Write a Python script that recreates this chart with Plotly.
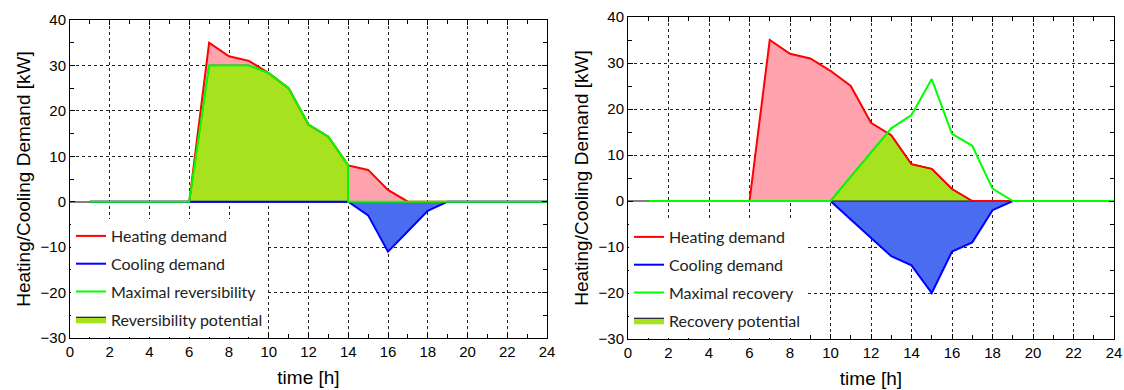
import numpy as np
import plotly.graph_objects as go

# ---------------- data ----------------
hours = list(range(1, 25))
heating_demand = [0, 0, 0, 0, 0, 0, 35, 32, 31, 28.3, 25, 17, 14.3, 8, 7, 2.6,
                  0, 0, 0, 0, 0, 0, 0, 0]
cooling_demand_left = [0, 0, 0, 0, 0, 0, 0, 0, 0, 0, 0, 0, 0, 0, -3, -11, -6.5, -2,
                       0, 0, 0, 0, 0, 0]
cooling_demand_right = [0, 0, 0, 0, 0, 0, 0, 0, 0, 0, -4, -8, -12, -14, -20, -11, -9, -2,
                        0, 0, 0, 0, 0, 0]
rev_hours = list(range(1, 15)) + [14] + list(range(15, 25))
max_reversibility = [0, 0, 0, 0, 0, 0, 30, 30, 30, 28.3, 25, 17, 14.3, 8,
                     0, 0, 0, 0, 0, 0, 0, 0, 0, 0, 0]
max_recovery = [0, 0, 0, 0, 0, 0, 0, 0, 0, 0, 5.3, 10.6, 15.8, 18.7, 26.5, 14.6, 12, 2.7,
                0, 0, 0, 0, 0, 0]

x_ticks = list(range(0, 25, 2))
y_ticks = list(range(-30, 41, 10))

# ---------------- styles ----------------
RED, BLUE, GREEN = "#ff0000", "#0000ff", "#00ff00"
PINK_FILL, BLUE_FILL, GREEN_FILL = "#ffa3ae", "#4a6cf0", "#a6e21e"
OUTLINE = "#1a1a3a"
LW = 2


def pointwise_min(x, a, b):
    """Lower envelope of two piecewise-linear curves, with crossings inserted."""
    xs, ys = [], []
    for i in range(len(x)):
        if i > 0:
            d0 = a[i - 1] - b[i - 1]
            d1 = a[i] - b[i]
            if d0 * d1 < 0:
                t = d0 / (d0 - d1)
                xs.append(x[i - 1] + t * (x[i] - x[i - 1]))
                ys.append(a[i - 1] + t * (a[i] - a[i - 1]))
        xs.append(x[i])
        ys.append(min(a[i], b[i]))
    return xs, ys


def closed_to_zero(xs, ys):
    return list(xs) + list(xs[::-1]), list(ys) + [0] * len(xs)


fig = go.Figure()


def add_panel(xa, ya, legend, cooling, green_x, green_y, green_name, pot_x, pot_y, pot_name):
    # filled areas
    fig.add_trace(go.Scatter(x=hours, y=heating_demand, mode="lines", fill="tozeroy",
                             fillcolor=PINK_FILL, line=dict(width=0), showlegend=False,
                             xaxis=xa, yaxis=ya, hoverinfo="skip"))
    fig.add_trace(go.Scatter(x=hours, y=cooling, mode="lines", fill="tozeroy",
                             fillcolor=BLUE_FILL, line=dict(width=0), showlegend=False,
                             xaxis=xa, yaxis=ya, hoverinfo="skip"))
    px, py = closed_to_zero(pot_x, pot_y)
    fig.add_trace(go.Scatter(x=px, y=py, mode="lines", fill="toself",
                             fillcolor=GREEN_FILL, line=dict(color=OUTLINE, width=1.2),
                             name=pot_name, legend=legend, xaxis=xa, yaxis=ya,
                             legendrank=4, legendgroup=legend + "d"))
    # lines
    fig.add_trace(go.Scatter(x=hours, y=heating_demand, mode="lines",
                             line=dict(color=RED, width=LW), name="Heating demand",
                             legend=legend, xaxis=xa, yaxis=ya, legendrank=1,
                             legendgroup=legend + "a"))
    fig.add_trace(go.Scatter(x=hours, y=cooling, mode="lines",
                             line=dict(color=BLUE, width=LW), name="Cooling demand",
                             legend=legend, xaxis=xa, yaxis=ya, legendrank=2,
                             legendgroup=legend + "b"))
    fig.add_trace(go.Scatter(x=green_x, y=green_y, mode="lines",
                             line=dict(color=GREEN, width=LW), name=green_name,
                             legend=legend, xaxis=xa, yaxis=ya, legendrank=3,
                             legendgroup=legend + "c"))


# left panel: reversibility
add_panel("x", "y", "legend", cooling_demand_left, rev_hours, max_reversibility,
          "Maximal reversibility", rev_hours, max_reversibility, "Reversibility potential")

# right panel: recovery
rx, ry = pointwise_min(hours, heating_demand, max_recovery)
add_panel("x2", "y2", "legend2", cooling_demand_right, hours, max_recovery,
          "Maximal recovery", rx, ry, "Recovery potential")

W, H = 1124, 390
left_px = (70, 547, 20, 338)
right_px = (628, 1114, 17, 339)


def dom_x(p):
    return [p[0] / W, p[1] / W]


def dom_y(p):
    return [1 - p[3] / H, 1 - p[2] / H]


tick_font = dict(family="Liberation Sans, Arial, sans-serif", size=15, color="black")
title_font = dict(family="Liberation Sans, Arial, sans-serif", size=19, color="black")

xaxis_common = dict(range=[0, 24], tickvals=x_ticks, showgrid=True, gridcolor="#222",
                    griddash="3px,3px", gridwidth=1, showline=True, linecolor="black",
                    linewidth=1, mirror="allticks", ticks="inside", ticklen=5,
                    tickcolor="black", minor=dict(dtick=1, ticks="inside", ticklen=4,
                                                  tickcolor="black", showgrid=False),
                    zeroline=False, tickfont=tick_font, automargin=False,
                    title=dict(text="time [h]", font=title_font, standoff=11))
yaxis_common = dict(range=[-30, 40], tickvals=y_ticks, showgrid=True, gridcolor="#222",
                    griddash="3px,3px", gridwidth=1, showline=True, linecolor="black",
                    linewidth=1, mirror="allticks", ticks="inside", ticklen=5,
                    tickcolor="black", minor=dict(dtick=5, ticks="inside", ticklen=4,
                                                  tickcolor="black", showgrid=False),
                    zeroline=True, zerolinecolor="#808080", zerolinewidth=1.5,
                    tickfont=tick_font, automargin=False,
                    title=dict(text="Heating/Cooling Demand [kW]", font=title_font, standoff=4))

legend_common = dict(bgcolor="white", borderwidth=0, font=dict(family="Lato, Open Sans, sans-serif",
                     size=16, color="#222"), xanchor="left", yanchor="bottom",
                     tracegroupgap=4, itemwidth=30, traceorder="grouped")

fig.update_layout(
    width=W, height=H, margin=dict(l=0, r=0, t=0, b=0),
    paper_bgcolor="white", plot_bgcolor="white",
    xaxis=dict(xaxis_common, domain=dom_x(left_px), anchor="y"),
    yaxis=dict(yaxis_common, domain=dom_y(left_px), anchor="x"),
    xaxis2=dict(xaxis_common, domain=dom_x(right_px), anchor="y2"),
    yaxis2=dict(yaxis_common, domain=dom_y(right_px), anchor="x2"),
    legend=dict(legend_common, x=71 / W, y=1 - 337 / H),
    legend2=dict(legend_common, x=629 / W, y=1 - 338 / H),
    showlegend=True,
)

fig.write_html("out.html", config={"displayModeBar": False},
               post_script="document.body.style.margin='0';document.body.style.overflow='hidden';")
